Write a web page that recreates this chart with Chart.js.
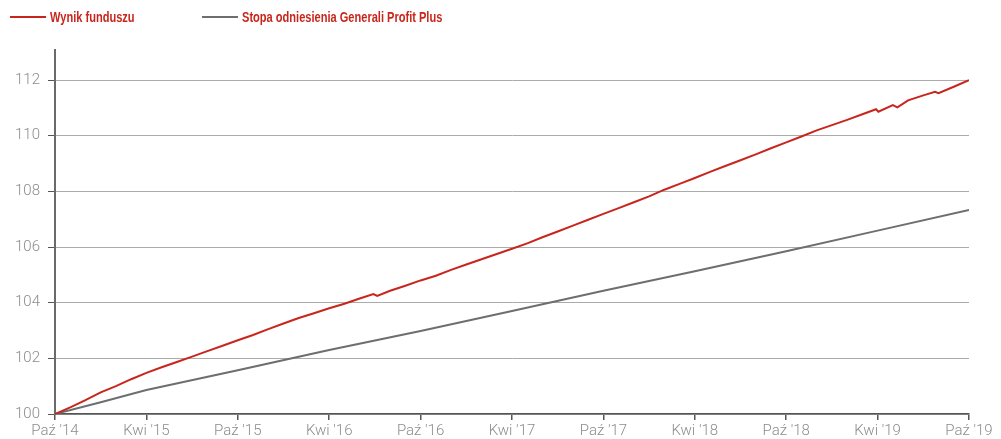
<!DOCTYPE html>
<html>
<head>
<meta charset="utf-8">
<script src="https://cdn.jsdelivr.net/npm/chart.js@4/dist/chart.umd.min.js"></script>
<style>
  html, body { margin: 0; padding: 0; background: #fff; }
  #wrap { width: 1001px; height: 439px; position: relative; }
</style>
</head>
<body>
<div id="wrap"><canvas id="chart"></canvas></div>
<script>
'use strict'

// months since Oct 2014
const tickMonths = [0, 6, 12, 18, 24, 30, 36, 42, 48, 54, 60]
const tickLabels = ['Paź \'14', 'Kwi \'15', 'Paź \'15', 'Kwi \'16', 'Paź \'16', 'Kwi \'17',
  'Paź \'17', 'Kwi \'18', 'Paź \'18', 'Kwi \'19', 'Paź \'19']
const yTicks = [100, 102, 104, 106, 108, 110, 112]

const fundMonths = [0, 1, 2, 3, 4, 5, 6, 7, 8, 9, 10, 11, 12, 13, 14, 15, 16, 17, 18, 19, 20,
  20.9, 21.15, 22, 23, 24, 25, 26, 27, 28, 29, 30, 31, 32, 33, 34, 35, 36, 37, 38, 39, 40,
  41, 42, 43, 44, 45, 46, 47, 48, 49, 50, 51, 52, 53, 53.9, 54.05, 55, 55.3, 56, 57, 57.77, 58, 59, 60]
const fundValues = [100, 100.24, 100.50, 100.78, 101.00, 101.25, 101.48, 101.68, 101.87, 102.06,
  102.26, 102.45, 102.65, 102.84, 103.05, 103.25, 103.45, 103.62, 103.80, 103.96, 104.15,
  104.31, 104.24, 104.43, 104.61, 104.80, 104.97, 105.18, 105.37, 105.56, 105.75, 105.94,
  106.13, 106.35, 106.56, 106.77, 106.98, 107.19, 107.40, 107.61, 107.82, 108.06,
  108.27, 108.48, 108.70, 108.91, 109.12, 109.33, 109.55, 109.76, 109.97, 110.19, 110.38,
  110.57, 110.77, 110.95, 110.86, 111.10, 111.02, 111.27, 111.45, 111.58, 111.53, 111.76, 112.00]

const benchMonths = [0, 3, 6, 12, 18, 24, 30, 36, 42, 48, 54, 60]
const benchValues = [100, 100.42, 100.86, 101.57, 102.30, 102.98, 103.70, 104.43, 105.13, 105.85, 106.59, 107.33]

const toPoints = (xs, ys) => xs.map(function (x, i) {
  return { x: x, y: ys[i] }
})

const RED = '#c8261c'
const GREY = '#6e6e6e'

// simple legend: fixed item width, line + bold condensed label
const topLegend = {
  id: 'topLegend',
  afterDraw (chart) {
    const ctx = chart.ctx
    ctx.save()
    ctx.font = 'bold 14px "Liberation Sans", Arial, sans-serif'
    ctx.textBaseline = 'middle'
    chart.data.datasets.forEach(function (ds, i) {
      const x = 10 + i * 192
      const y = 17
      ctx.strokeStyle = ds.borderColor
      ctx.lineWidth = 2
      ctx.beginPath()
      ctx.moveTo(x, y)
      ctx.lineTo(x + 36, y)
      ctx.stroke()
      // squeeze the label to look like a condensed face
      ctx.save()
      ctx.translate(x + 40, y + 1)
      ctx.scale(0.79, 1)
      ctx.fillStyle = RED
      ctx.fillText(ds.label, 0, 0)
      ctx.restore()
    })
    ctx.restore()
  }
}

const tickFont = { family: 'Roboto, "Liberation Sans", sans-serif', size: 15, weight: 300 }

new Chart(document.getElementById('chart'), {
  type: 'line',
  data: {
    datasets: [{
      label: 'Wynik funduszu',
      data: toPoints(fundMonths, fundValues),
      borderColor: RED,
      borderWidth: 2,
      pointRadius: 0,
      tension: 0
    }, {
      label: 'Stopa odniesienia Generali Profit Plus',
      data: toPoints(benchMonths, benchValues),
      borderColor: GREY,
      borderWidth: 2,
      pointRadius: 0,
      tension: 0
    }]
  },
  options: {
    responsive: true,
    maintainAspectRatio: false,
    animation: false,
    layout: { padding: { top: 50, right: 32, left: 0, bottom: 0 } },
    plugins: {
      legend: { display: false },
      tooltip: { enabled: false }
    },
    scales: {
      x: {
        type: 'linear',
        min: 0,
        max: 60,
        afterBuildTicks: (axis) => { axis.ticks = tickMonths.map(v => ({ value: v })) },
        afterFit: (axis) => { axis.height = 25 },
        ticks: {
          color: '#8c8c8c',
          font: tickFont,
          padding: 2,
          maxRotation: 0,
          autoSkip: false,
          callback: (v) => tickLabels[tickMonths.indexOf(v)]
        },
        grid: { drawOnChartArea: false, drawTicks: true, tickLength: 6, tickColor: '#555', lineWidth: 1.5 },
        border: { color: '#555', width: 1.5 }
      },
      y: {
        min: 100,
        max: 113.08,
        afterBuildTicks: (axis) => { axis.ticks = yTicks.map(v => ({ value: v })) },
        afterFit: (axis) => { axis.width = 55 },
        ticks: {
          color: '#8c8c8c',
          font: tickFont,
          padding: 8
        },
        grid: { color: '#ababab', lineWidth: 1, tickLength: 7, tickColor: '#555' },
        border: { color: '#6a6a6a', width: 2 }
      }
    }
  },
  plugins: [topLegend]
})
</script>
</body>
</html>
